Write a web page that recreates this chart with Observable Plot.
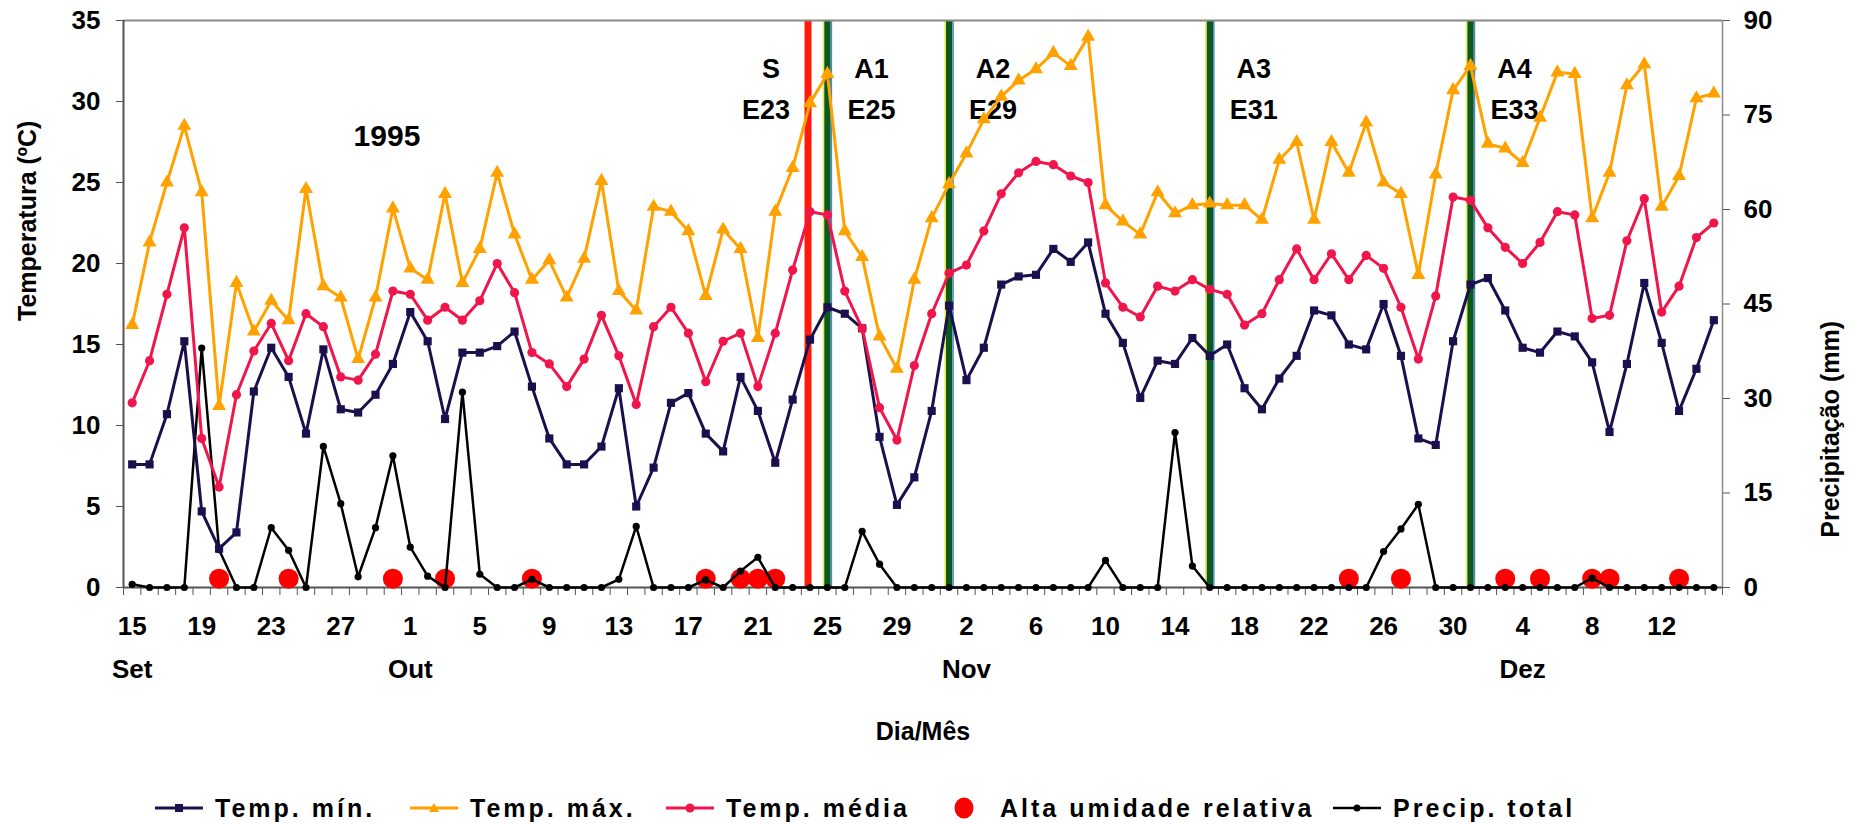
<!DOCTYPE html>
<html><head><meta charset="utf-8">
<script src="https://cdn.jsdelivr.net/npm/d3@7"></script>
<script src="https://cdn.jsdelivr.net/npm/@observablehq/plot@0.6"></script>
<style>
body{margin:0;background:#fff;}
#wrap{position:relative;width:1854px;height:824px;font-family:"Liberation Sans",Arial,sans-serif;font-weight:bold;}
.item{position:absolute;top:792px;height:32px;display:flex;align-items:center;font-size:25px;letter-spacing:3px;color:#000;white-space:nowrap;}
.item svg{margin-right:12px;}
</style></head><body>
<div id="wrap"><div id="chart"></div>
<div class="item" style="left:155px"><svg width="48" height="20"><line x1="0" y1="10" x2="48" y2="10" stroke="#1c0f4d" stroke-width="3"/><rect x="20" y="6" width="8" height="8" fill="#1c0f4d"/></svg><span>Temp. mín.</span></div>
<div class="item" style="left:410px"><svg width="48" height="20"><line x1="0" y1="10" x2="48" y2="10" stroke="#ffa200" stroke-width="3"/><path d="M24,5 L29,14 L19,14 Z" fill="#ffa200"/></svg><span>Temp. máx.</span></div>
<div class="item" style="left:666px"><svg width="48" height="20"><line x1="0" y1="10" x2="48" y2="10" stroke="#f0164c" stroke-width="3"/><circle cx="24" cy="10" r="4.5" fill="#f0164c"/></svg><span>Temp. média</span></div>
<div class="item" style="left:950px"><svg width="28" height="24" style="margin-right:22px"><ellipse cx="14" cy="12" rx="9.5" ry="10.5" fill="#ff0000"/></svg><span>Alta umidade relativa</span></div>
<div class="item" style="left:1333px"><svg width="48" height="20"><line x1="0" y1="10" x2="48" y2="10" stroke="#000" stroke-width="2.5"/><circle cx="24" cy="10" r="3.5" fill="#000"/></svg><span>Precip. total</span></div>
</div>
<script>
// daily values from 15 Sep 1995 (index 0) to 15 Dec 1995 (index 91)
const tempMin = [7.6,7.6,10.7,15.2,4.7,2.4,3.4,12.1,14.8,13.0, 9.5,14.7,11.0,10.8,11.9,13.8,17.0,15.2,10.4,14.5,
  14.5,14.9,15.8,12.4,9.2,7.6,7.6,8.7,12.3,5.0, 7.4,11.4,12.0,9.5,8.4,13.0,10.9,7.7,11.6,15.3,
  17.3,16.9,16.0,9.3,5.1,6.8,10.9,17.4,12.8,14.8, 18.7,19.2,19.3,20.9,20.1,21.3,16.9,15.1,11.7,14.0,
  13.8,15.4,14.3,15.0,12.3,11.0,12.9,14.3,17.1,16.8, 15.0,14.7,17.5,14.3,9.2,8.8,15.2,18.7,19.1,17.1,
  14.8,14.5,15.8,15.5,13.9,9.6,13.8,18.8,15.1,10.9, 13.5,16.5];
const tempMax = [16.2,21.3,25.0,28.5,24.4,11.2,18.8,15.8,17.7,16.5, 24.6,18.6,17.9,14.1,17.9,23.4,19.7,19.0,24.3,18.8,
  20.9,25.6,21.8,19.0,20.2,17.9,20.3,25.1,18.3,17.1, 23.5,23.2,22.0,18.0,22.1,20.9,15.4,23.2,25.9,29.9,
  31.7,22.0,20.4,15.5,13.5,19.0,22.8,24.9,26.8,28.9, 30.3,31.3,32.0,33.0,32.2,34.0,23.6,22.6,21.8,24.4,
  23.1,23.6,23.7,23.6,23.6,22.7,26.4,27.5,22.7,27.5, 25.6,28.7,25.0,24.3,19.3,25.5,30.7,32.2,27.4,27.1,
  26.2,29.0,31.8,31.7,22.8,25.6,31.0,32.3,23.5,25.4, 30.2,30.5];
const tempMean = [11.4,14.0,18.1,22.2,9.2,6.2,11.9,14.6,16.3,14.0, 16.9,16.1,13.0,12.8,14.4,18.3,18.1,16.5,17.3,16.5,
  17.7,20.0,18.2,14.5,13.8,12.4,14.1,16.8,14.3,11.3, 16.1,17.3,15.7,12.7,15.2,15.7,12.4,15.7,19.6,23.2,
  23.0,18.3,16.0,11.1,9.1,13.7,16.9,19.4,19.9,22.0, 24.3,25.6,26.3,26.1,25.4,25.0,18.8,17.3,16.7,18.6,
  18.3,19.0,18.4,18.1,16.2,16.9,19.0,20.9,19.0,20.6, 19.0,20.5,19.7,17.3,14.1,18.0,24.1,23.9,22.2,21.0,
  20.0,21.3,23.2,23.0,16.6,16.8,21.4,24.0,17.0,18.6, 21.6,22.5];
const precip = [0.5,0,0,0,38.0,6.0,0,0,9.5,5.9, 0,22.4,13.3,1.7,9.5,20.9,6.4,1.8,0,31.0,
  2.1,0,0,1.3,0,0,0,0,1.3,9.7, 0,0,0,1.2,0,2.6,4.8,0,0,0,
  0,0,8.9,3.7,0,0,0,0,0,0, 0,0,0,0,0,0,4.3,0,0,0,
  24.6,3.4,0,0,0,0,0,0,0,0, 0,0,5.7,9.3,13.2,0,0,0,0,0,
  0,0,0,0,1.5,0,0,0,0,0, 0,0];
const humidDays = [5,9,15,18,23,33,35,36,37,70,73,79,81,84,85,89];
const humidLevel = 1.4; // mm
const tickDays = [0,4,8,12,16,20,24,28,32,36,40,44,48,52,56,60,64,68,72,76,80,84,88];
const tickLabels = ["15","19","23","27","1","5","9","13","17","21","25","29","2","6","10","14","18","22","26","30","4","8","12"];
const monthDays = [0,16,48,80];
const monthLabels = ["Set","Out","Nov","Dez"];
const eventDays = [39,40,47,62,77];
const eventNames = ["S","A1","A2","A3","A4"];
const eventStages = ["E23","E25","E29","E31","E33"];
const tempTicks = [0,5,10,15,20,25,30,35];
const precipTicks = [0,15,30,45,60,75,90];

const k = 35/90;
const rows = tempMin.map((v,i)=>({day:i,min:v,max:tempMax[i],mean:tempMean[i],p:precip[i]*k}));
const events = eventDays.map((d,i)=>({day:d,name:eventNames[i],stage:eventStages[i]}));
const boundaries = d3.range(-0.5, 92, 1);
const navy="#1c0f4d", orange="#ffa200", pink="#f0164c";
const green = events.filter(e=>e.name!=="S"), sEv = events.filter(e=>e.name==="S");
const font = {fontWeight:"bold", fill:"#000"};

const chart = Plot.plot({
  width:1854, height:792,
  marginLeft:123, marginRight:132, marginTop:20, marginBottom:205,
  style:{fontFamily:'"Liberation Sans", Arial, sans-serif', fontSize:"26px", fontWeight:"bold", color:"#000", background:"#fff"},
  x:{domain:[-0.5,91.5], axis:null},
  y:{domain:[0,35], axis:null},
  marks:[
    // event lines
    Plot.ruleX(green, {x:"day", y1:0, y2:35, stroke:"#0b5a1c", strokeWidth:6.5}),
    Plot.ruleX(green, {x:"day", y1:0, y2:35, stroke:"#e4ee55", strokeWidth:1.5, dx:-4}),
    Plot.ruleX(green, {x:"day", y1:0, y2:35, stroke:"#4a86c8", strokeWidth:1.5, dx:4}),
    Plot.ruleX(sEv, {x:"day", y1:0, y2:35, stroke:"#ff1a0a", strokeWidth:7, dx:-2}),
    // frame
    Plot.ruleY([35], {stroke:"#8a8a8a", strokeWidth:2}),
    Plot.ruleX([91.5], {stroke:"#8a8a8a", strokeWidth:1.5}),
    Plot.ruleX([-0.5], {stroke:"#555", strokeWidth:2}),
    Plot.ruleY([0], {stroke:"#555", strokeWidth:2}),
    // axes
    Plot.axisY(tempTicks, {anchor:"left", label:null, tickSize:7, tickPadding:16, fontSize:26, fontWeight:"bold", stroke:"#555"}),
    Plot.axisY(precipTicks.map(v=>v*k), {anchor:"right", label:null, tickSize:7, tickPadding:14, fontSize:26, fontWeight:"bold", stroke:"#555", tickFormat:d=>String(Math.round(d/k))}),
    Plot.axisX(boundaries, {label:null, tickSize:8, tickFormat:()=>"", stroke:"#555"}),
    Plot.text(tickDays, {x:d=>d, text:(d,i)=>tickLabels[i], frameAnchor:"bottom", dy:47, fontSize:26, ...font}),
    Plot.text(monthDays, {x:d=>d, text:(d,i)=>monthLabels[i], frameAnchor:"bottom", dy:90, fontSize:26, ...font}),
    Plot.text(["Dia/Mês"], {frameAnchor:"bottom", dy:152, fontSize:25, ...font}),
    Plot.text(["Temperatura (ºC)"], {frameAnchor:"left", rotate:-90, dx:-96, dy:17, fontSize:25, ...font}),
    Plot.text(["Precipitação (mm)"], {frameAnchor:"right", rotate:-90, dx:108, dy:17, fontSize:25, ...font}),
    // annotations
    Plot.text(["1995"], {x:()=>14.66, frameAnchor:"top", dy:104, fontSize:30, ...font}),
    Plot.text(sEv, {x:"day", text:"name", frameAnchor:"top", dy:38, dx:-39, fontSize:27, ...font}),
    Plot.text(sEv, {x:"day", text:"stage", frameAnchor:"top", dy:79, dx:-44, fontSize:27, ...font}),
    Plot.text(green, {x:"day", text:"name", frameAnchor:"top", dy:38, dx:44, fontSize:27, ...font}),
    Plot.text(green, {x:"day", text:"stage", frameAnchor:"top", dy:79, dx:44, fontSize:27, ...font}),
    // high relative humidity
    Plot.dot(humidDays, {x:d=>d, y:()=>humidLevel*k, r:10, fill:"#ff0000"}),
    // precipitation
    Plot.line(rows, {x:"day", y:"p", stroke:"#000", strokeWidth:2.5}),
    Plot.dot(rows, {x:"day", y:"p", r:3.6, fill:"#000", symbol:"circle"}),
    // temperatures
    Plot.line(rows, {x:"day", y:"min", stroke:navy, strokeWidth:3}),
    Plot.dot(rows, {x:"day", y:"min", r:4.6, fill:navy, symbol:"square"}),
    Plot.line(rows, {x:"day", y:"mean", stroke:pink, strokeWidth:3}),
    Plot.dot(rows, {x:"day", y:"mean", r:4.6, fill:pink, symbol:"circle"}),
    Plot.line(rows, {x:"day", y:"max", stroke:orange, strokeWidth:3}),
    Plot.dot(rows, {x:"day", y:"max", r:5.2, fill:orange, symbol:"triangle"})
  ]
});
document.getElementById("chart").appendChild(chart);
</script>
</body></html>
